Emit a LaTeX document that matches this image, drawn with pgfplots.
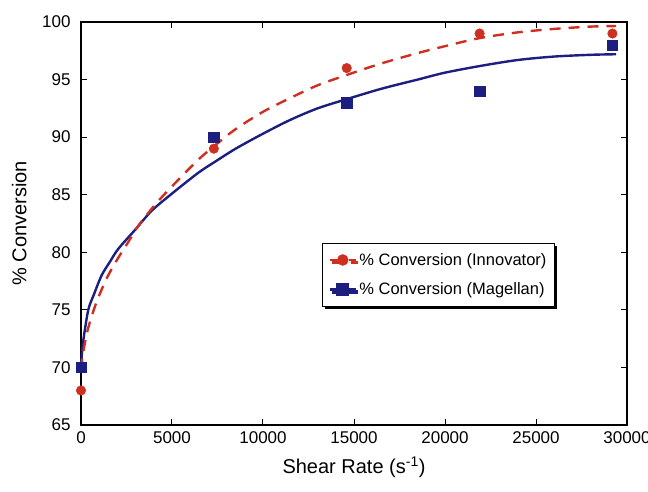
\documentclass[border=0pt]{standalone}
\usepackage{pgfplots}
\pgfplotsset{compat=1.18}
\usepackage{fontspec}
\setmainfont{Liberation Sans}
\usetikzlibrary{shadows}
\definecolor{cred}{RGB}{205,48,32}
\definecolor{cblue}{RGB}{28,30,128}

\begin{document}
\begin{tikzpicture}
\begin{axis}[
  scale only axis, width=546pt, height=403pt,
  xmin=0, xmax=30000, ymin=65, ymax=100,
  xtick={0,5000,10000,15000,20000,25000,30000},
  ytick={65,70,75,80,85,90,95,100},
  scaled x ticks=false,
  /pgf/number format/1000 sep={},
  /pgf/number format/assume math mode=true,
  tick align=inside, major tick length=6pt,
  tick style={black, line width=1pt},
  axis line style={black, line width=1.3pt},
  ticklabel style={font=\fontsize{17}{17}\selectfont},
  yticklabel style={xshift=-7pt},
  xticklabel style={yshift=-3pt},
  xlabel={Shear Rate (s\textsuperscript{-1})},
  ylabel={\% Conversion},
  xlabel style={font=\fontsize{20}{20}\selectfont, at={(axis description cs:0.5,-0.105)}, anchor=center},
  ylabel style={font=\fontsize{20}{20}\selectfont, at={(axis description cs:-0.113,0.5)}, anchor=center, rotate=0},
  clip=false,
  legend cell align=left,
  legend style={at={(axis description cs:0.441,0.452)}, anchor=north west,
    draw=black, line width=0.8pt, font=\fontsize{16.5}{16.5}\selectfont,
    row sep=12pt, inner xsep=6pt, inner ysep=8pt,
    /tikz/every even column/.append style={column sep=2pt},
    drop shadow={shadow xshift=2.5pt, shadow yshift=-2.5pt, opacity=1, fill=black}},
  legend image code/.code={\draw[mark repeat=2,mark phase=2,#1] plot coordinates {(0pt,0pt) (13pt,0pt) (26pt,0pt)};},
]
\coordinate (sw) at (rel axis cs:0,0);
\coordinate (ne) at (rel axis cs:1,1);

% fitted curve, Magellan
\addplot[cblue, line width=2.4pt, no marks, smooth, forget plot] coordinates {
(0,70.0) (50,71.2) (150,72.6) (400,75.0) (700,76.3) (1135,78.0) (1600,79.2)
(2050,80.3) (3000,82.0) (3880,83.6) (5000,85.1) (6440,86.9) (7300,87.8)
(8500,89.0) (10000,90.3) (11500,91.5) (13000,92.5) (14600,93.3) (16500,94.2)
(18500,95.0) (20000,95.6) (22000,96.2) (24000,96.7) (26000,97.0) (28000,97.15) (29400,97.2)
};
% fitted curve, Innovator
\addplot[cred, line width=2.4pt, no marks, smooth, dash pattern=on 11pt off 8pt, forget plot] coordinates {
(0,69.8) (100,71.1) (300,72.8) (500,74.0) (860,75.7) (1400,77.7) (2000,79.4)
(2600,80.9) (3150,82.3) (4000,84.0) (4742,85.3) (6350,87.9) (7300,89.2)
(8500,90.7) (10000,92.2) (11500,93.4) (13000,94.5) (14600,95.4) (16500,96.4)
(18500,97.3) (20000,97.9) (21900,98.6) (24000,99.1) (26000,99.4) (28000,99.6) (29400,99.65)
};
% data points
\addplot[only marks, mark=*, mark size=4.8pt, color=cred, forget plot] coordinates {
(0,68) (7300,89) (14600,96) (21900,99) (29200,99)
};
\addplot[only marks, mark=square*, mark size=5.2pt, color=cblue, forget plot] coordinates {
(0,70) (7300,90) (14600,93) (21900,94) (29200,98)
};

\addlegendimage{cred, line width=2.4pt, dash pattern=on 7pt off 12pt, mark=*, mark size=4.5pt, mark options={solid}}
\addlegendentry{\% Conversion (Innovator)}
\addlegendimage{cblue, line width=3.2pt, mark=square*, mark size=4.8pt, mark options={solid}}
\addlegendentry{\% Conversion (Magellan)}
\end{axis}
\pgfresetboundingbox
\path[use as bounding box] ([shift={(-81pt,-66pt)}]sw) rectangle ([shift={(21pt,22pt)}]ne);
\end{tikzpicture}
\end{document}
